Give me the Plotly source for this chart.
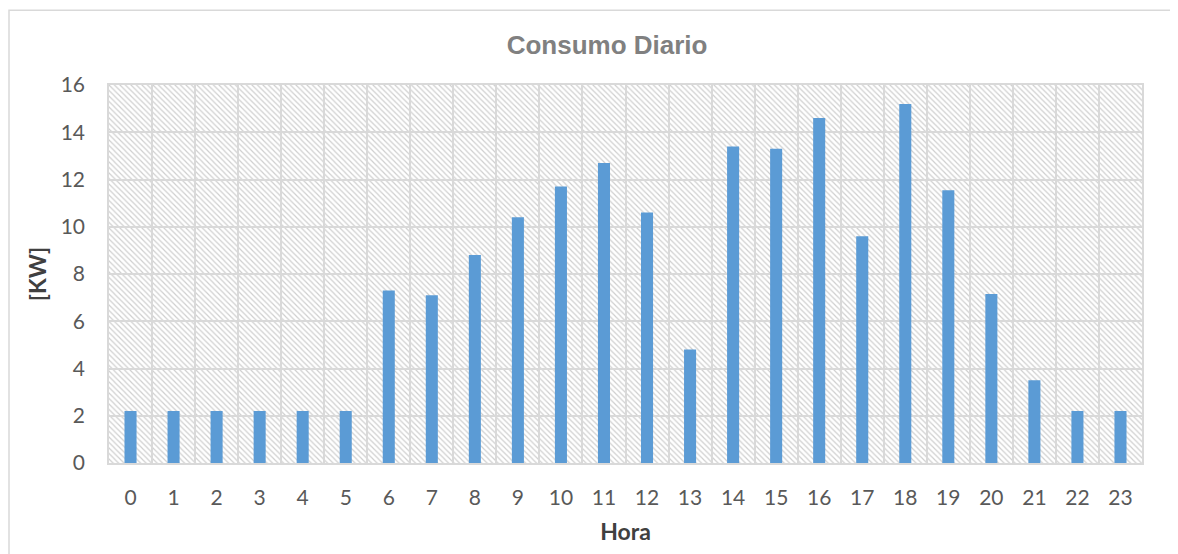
import plotly.graph_objects as go

horas = [str(h) for h in range(24)]
consumo_kw = [2.2, 2.2, 2.2, 2.2, 2.2, 2.2, 7.3, 7.1, 8.8, 10.4, 11.7, 12.7,
              10.6, 4.8, 13.4, 13.3, 14.6, 9.6, 15.2, 11.55, 7.15, 3.5, 2.2, 2.2]
y_ticks = [0, 2, 4, 6, 8, 10, 12, 14, 16]

hatch_svg = (
    "<svg xmlns='http://www.w3.org/2000/svg' width='1033' height='378' "
    "viewBox='0 0 1033 378' preserveAspectRatio='none'>"
    "<defs><pattern id='p' patternUnits='userSpaceOnUse' width='5.5' height='5.5'>"
    "<path d='M-1,-1 L6.5,6.5 M-1,4.5 L1,6.5 M4.5,-1 L6.5,1' stroke='%23cfcfcf' stroke-width='1.2'/>"
    "</pattern></defs>"
    "<rect width='1033' height='378' fill='url(%23p)'/></svg>"
)
hatch_uri = "data:image/svg+xml;utf8," + (hatch_svg.replace("<", "%3C").replace(">", "%3E")
                                          .replace(" ", "%20").replace("'", "%27"))

fig = go.Figure()
fig.add_trace(go.Bar(
    x=horas, y=consumo_kw,
    marker=dict(color="#5b9bd5", line=dict(width=0)),
    width=0.28,
))

font_family = "Lato, Carlito, Open Sans, sans-serif"
fig.update_layout(
    width=1170, height=546,
    margin=dict(l=101, r=36, t=77, b=91),
    paper_bgcolor="white", plot_bgcolor="rgba(0,0,0,0)",
    showlegend=False,
    title=dict(text="<b>Consumo Diario</b>", x=0.512, xanchor="center", y=0.932, yanchor="middle",
               font=dict(family="Liberation Sans, Arial, sans-serif", size=26, color="#808080")),
    xaxis=dict(
        type="category", tickson="boundaries", showgrid=True, gridcolor="#d9d9d9", gridwidth=1.5,
        ticks="", showline=True, linecolor="#d9d9d9", linewidth=1.5, mirror=True,
        tickfont=dict(family=font_family, size=21, color="#595959"), ticklabelstandoff=15,
        title=dict(text="<b>Hora</b>", font=dict(family=font_family, size=23, color="#404040"), standoff=16),
    ),
    yaxis=dict(
        range=[0, 16], tickvals=y_ticks, showgrid=True, gridcolor="#d9d9d9", gridwidth=1.5,
        zeroline=False, showline=True, linecolor="#d9d9d9", linewidth=1.5, mirror=True,
        tickfont=dict(family=font_family, size=21, color="#595959"), ticklabelstandoff=18,
        title=dict(text="<b>[KW]</b>", font=dict(family=font_family, size=23, color="#404040"), standoff=8),
    ),
    images=[dict(source=hatch_uri, xref="paper", yref="paper", x=0, y=1, sizex=1, sizey=1,
                 sizing="stretch", layer="below", xanchor="left", yanchor="top")],
    shapes=[dict(type="rect", xref="paper", yref="paper", x0=-0.0968, y0=-0.6, x1=1.2, y1=1.198,
                 line=dict(color="#d9d9d9", width=1.5), fillcolor="rgba(0,0,0,0)", layer="below")],
)

fig.write_html("out.html")
